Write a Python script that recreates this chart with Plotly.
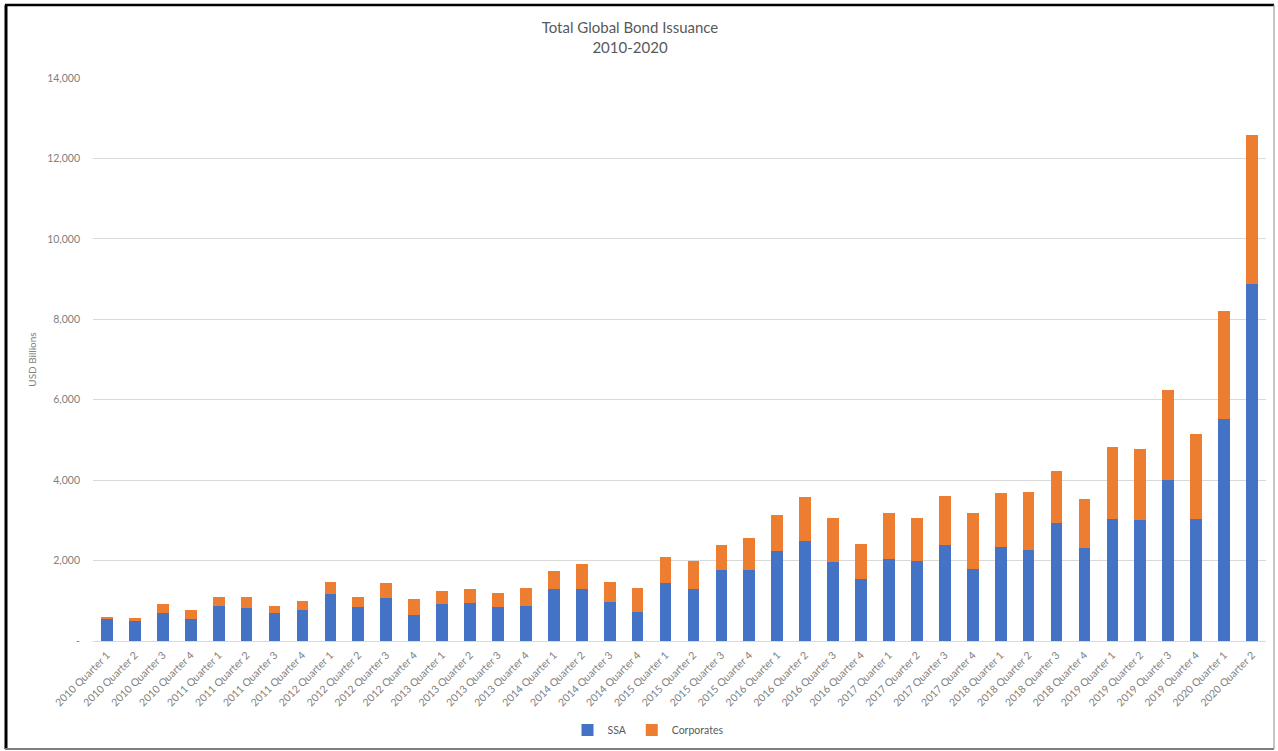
import plotly.graph_objects as go

# Quarterly global bond issuance, USD billions
quarters = [f"{y} Quarter {q}" for y in range(2010, 2021) for q in range(1, 5)][:42]

ssa = [560, 500, 700, 545, 866, 825, 700, 766, 1170, 850, 1066, 655,
       915, 945, 845, 860, 1290, 1290, 970, 720, 1435, 1290, 1755, 1755,
       2228, 2490, 1960, 1535, 2047, 1979, 2388, 1791, 2329, 2260, 2926, 2303,
       3028, 3003, 4009, 3028, 5519, 8880]

corporates = [40, 75, 230, 235, 234, 275, 166, 234, 305, 250, 367, 386,
              335, 355, 353, 465, 440, 617, 507, 605, 650, 693, 634, 811,
              903, 1097, 1090, 879, 1126, 1083, 1229, 1382, 1339, 1451, 1313, 1220,
              1792, 1774, 2221, 2116, 2691, 3700]

y_tick_values = [0, 2000, 4000, 6000, 8000, 10000, 12000, 14000]
y_tick_labels = ["-", "2,000", "4,000", "6,000", "8,000", "10,000", "12,000", "14,000"]

W, H = 1278, 751
ML, MR, MT, MB = 93, 12, 78, 110
PW = W - ML - MR
PH = H - MT - MB

FONT = "Lato, 'Open Sans', sans-serif"
GREY = "#595959"
LIGHT = "#808080"

fig = go.Figure()
fig.add_trace(go.Bar(name="SSA", x=quarters, y=ssa, marker=dict(color="#4472C4", line_width=0)))
fig.add_trace(go.Bar(name="Corporates", x=quarters, y=corporates, marker=dict(color="#ED7D31", line_width=0)))


def px_x(px):
    return (px - ML) / PW


def px_y(py):
    return 1 - (py - MT) / PH


# outer frame around the chart
frame = [
    (px_x(6), px_y(5), px_x(6), px_y(749), "#000000", 3),
    (px_x(5), px_y(5), px_x(1274), px_y(5), "#000000", 2.5),
    (px_x(5), px_y(749), px_x(1274), px_y(749), "#7f7f7f", 2),
    (px_x(1274), px_y(5), px_x(1274), px_y(749), "#8c8c8c", 1),
]
for x0, y0, x1, y1, c, w in frame:
    fig.add_shape(type="line", xref="paper", yref="paper", x0=x0, y0=y0, x1=x1, y1=y1,
                  line=dict(color=c, width=w), layer="above")

fig.update_layout(
    width=W, height=H,
    margin=dict(l=ML, r=MR, t=MT, b=MB, autoexpand=False),
    barmode="stack",
    bargap=0.58,
    paper_bgcolor="white",
    plot_bgcolor="white",
    font=dict(family=FONT, color=GREY, size=10),
    title=dict(text="Total Global Bond Issuance<br>2010-2020", x=630 / W, xref="container",
               xanchor="center", y=1 - 33 / H, yanchor="top",
               font=dict(size=15, color=GREY, family=FONT)),
    showlegend=True,
    legend=dict(orientation="h", x=px_x(648), xanchor="center", y=px_y(730), yanchor="middle",
                font=dict(size=10.5, color=GREY), itemwidth=30, traceorder="normal"),
    xaxis=dict(tickangle=-45, tickfont=dict(size=10.5, color=LIGHT), showgrid=False,
               showline=True, linecolor="#d9d9d9", linewidth=1, ticks="", automargin=False,
               ticklabelstandoff=3),
    yaxis=dict(range=[0, 14000], tickvals=y_tick_values, ticktext=y_tick_labels,
               tickfont=dict(size=10.5, color=LIGHT), gridcolor="#d9d9d9", gridwidth=1,
               zeroline=False, showline=False, ticks="", ticklabelstandoff=12, automargin=False,
               title=dict(text="USD Billions", font=dict(size=10, color=LIGHT), standoff=8)),
)

fig.write_html("out.html")
